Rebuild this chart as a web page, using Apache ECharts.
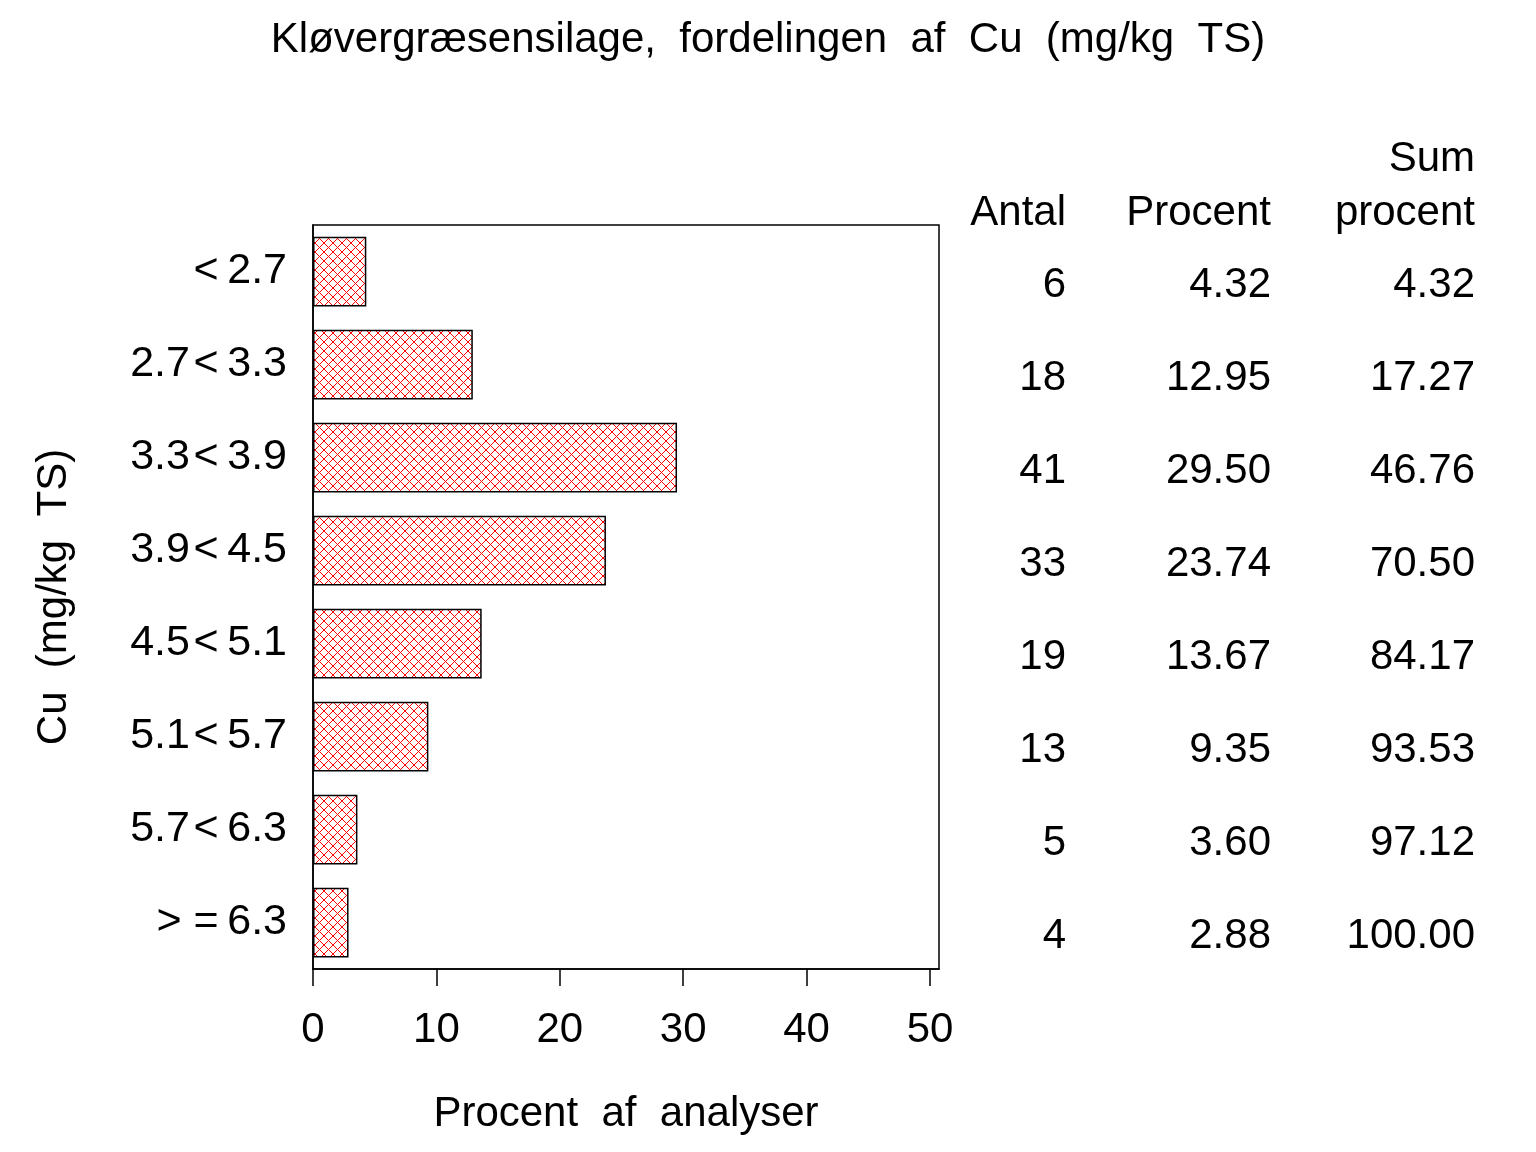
<!DOCTYPE html>
<html>
<head>
<meta charset="utf-8">
<script src="https://cdn.jsdelivr.net/npm/echarts@6/dist/echarts.min.js"></script>
<style>
html,body{margin:0;padding:0;background:#fff;}
#chart{width:1536px;height:1152px;}
</style>
</head>
<body>
<div id="chart"></div>
<script>
// ---- data ----
var categories = ['<\u20092.7', '2.7\u200A<\u20093.3', '3.3\u200A<\u20093.9', '3.9\u200A<\u20094.5', '4.5\u200A<\u20095.1', '5.1\u200A<\u20095.7', '5.7\u200A<\u20096.3', '>\u00A0=\u20096.3'];
var antal = [6, 18, 41, 33, 19, 13, 5, 4];
var procent = [4.32, 12.95, 29.50, 23.74, 13.67, 9.35, 3.60, 2.88];
var sumProcent = [4.32, 17.27, 46.76, 70.50, 84.17, 93.53, 97.12, 100.00];
var xTicks = [0, 10, 20, 30, 40, 50];
var tableHeaders = ['Antal', 'Procent', 'Sum', 'procent'];

var FONT = "'Liberation Sans', Arial, Helvetica, sans-serif";
var FS = 42;

// crosshatch pattern
function makePattern() {
  var n = 9;
  var c = document.createElement('canvas');
  c.width = n; c.height = n;
  var ctx = c.getContext('2d');
  ctx.fillStyle = '#ffffff';
  ctx.fillRect(0, 0, n, n);
  ctx.fillStyle = '#ff0000';
  for (var i = 0; i < n; i++) {
    ctx.fillRect(i, i, 1, 1);
    ctx.fillRect(n - 1 - i, i, 1, 1);
  }
  return c;
}

var chart = echarts.init(document.getElementById('chart'), null, {renderer: 'canvas'});

function tableAxis(values, margin) {
  return {
    type: 'category',
    gridIndex: 1,
    position: 'right',
    inverse: true,
    data: values,
    axisLine: {show: false},
    axisTick: {show: false},
    splitLine: {show: false},
    axisLabel: {
      margin: margin,
      align: 'right',
      color: '#000',
      fontSize: FS,
      fontFamily: FONT
    }
  };
}

function headerTitle(text, rightEdge, top) {
  return {text: text, right: 1536 - rightEdge, top: top, padding: 0,
    textStyle: {fontSize: FS, fontWeight: 'normal', color: '#000', fontFamily: FONT}};
}

var option = {
  backgroundColor: '#fff',
  animation: false,
  title: [
    {text: 'Kl\u00f8vergr\u00e6sensilage,  fordelingen  af  Cu  (mg/kg  TS)', left: 'center', top: 19, padding: 0,
     textStyle: {fontSize: FS, fontWeight: 'normal', color: '#000', fontFamily: FONT}},
    headerTitle(tableHeaders[0], 1066, 192),
    headerTitle(tableHeaders[1], 1271, 192),
    headerTitle(tableHeaders[2], 1475, 138),
    headerTitle(tableHeaders[3], 1475, 192)
  ],
  grid: [{
    left: 313, right: 1536 - 939, top: 225, bottom: 1152 - 969,
    show: true, borderColor: '#000', borderWidth: 1.5, backgroundColor: 'transparent'
  }, {
    left: 313, right: 1536 - 939, top: 239, bottom: 1152 - 969 - 14,
    show: false
  }],
  xAxis: [{
    type: 'value',
    min: 0,
    max: 50.73,
    name: 'Procent  af  analyser',
    nameLocation: 'middle',
    nameGap: 124,
    nameTextStyle: {fontSize: FS, color: '#000', fontFamily: FONT},
    axisLine: {show: true, lineStyle: {color: '#000', width: 1.5}},
    axisTick: {show: true, length: 17, inside: false, customValues: xTicks, lineStyle: {color: '#000', width: 1.5}},
    axisLabel: {customValues: xTicks, margin: 40, color: '#000', fontSize: FS, fontFamily: FONT},
    splitLine: {show: false}
  }, {
    type: 'value', gridIndex: 1, min: 0, max: 1, show: false
  }],
  yAxis: [
    {
      type: 'category',
      inverse: true,
      data: categories,
      name: 'Cu  (mg/kg  TS)',
      nameLocation: 'middle',
      nameGap: 238,
      nameRotate: 90,
      nameTextStyle: {fontSize: FS, color: '#000', fontFamily: FONT},
      axisLine: {show: true, lineStyle: {color: '#000', width: 1.5}},
      axisTick: {show: false},
      splitLine: {show: false},
      axisLabel: {margin: 26, color: '#000', fontSize: 43, fontFamily: FONT}
    },
    tableAxis(antal.map(function (v) { return String(v); }), 127),
    tableAxis(procent.map(function (v) { return v.toFixed(2); }), 332),
    tableAxis(sumProcent.map(function (v) { return v.toFixed(2); }), 536)
  ],
  series: [{
    type: 'bar',
    xAxisIndex: 0,
    yAxisIndex: 0,
    data: procent,
    barCategoryGap: '25%',
    itemStyle: {
      color: {image: makePattern(), repeat: 'repeat'},
      borderColor: '#000',
      borderWidth: 1.5
    },
    emphasis: {disabled: true}
  }]
};

chart.setOption(option);
</script>
</body>
</html>
